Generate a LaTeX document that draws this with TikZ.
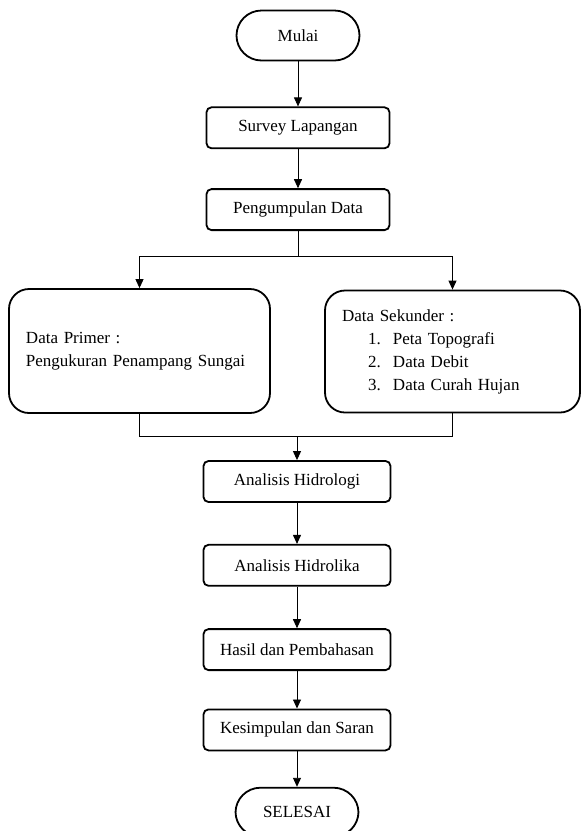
\documentclass[tikz,border=0pt]{standalone}
\usepackage{fontspec}
\setmainfont{Liberation Serif}
\usepackage{tikz}
\usetikzlibrary{arrows.meta, positioning}

\begin{document}
\begin{tikzpicture}[
    x=1pt, y=1pt,
    font=\fontsize{17}{23}\selectfont,
    term/.style={rectangle, draw, rounded corners=25pt, line width=1.8pt, minimum width=123pt, minimum height=50pt},
    box/.style={rectangle, draw, rounded corners=5pt, line width=1.8pt, minimum width=187pt, minimum height=41pt},
    bigbox/.style={rectangle, draw, rounded corners=20pt, line width=1.8pt, align=left, inner xsep=17pt, minimum height=122pt},
    line/.style={line width=0.9pt},
    arrow/.style={line, -{Triangle[length=9pt,width=8pt]}}
]
\useasboundingbox (0,0) rectangle (582,-831);
\node[term] (mulai) at (298,-35.5) {Mulai};
\node[box, minimum width=183pt, below=45pt of mulai] (survey) {Survey Lapangan};
\node[box, minimum width=183pt, below=39pt of survey] (pd) {Pengumpulan Data};
\node[bigbox, text width=227pt, minimum height=124pt] (prim) at (139.5,-351)
    {Data Primer :\\Pengukuran Penampang Sungai};
\node[bigbox, text width=221pt] (sek) at (452.5,-351.5)
    {Data Sekunder :\\
     \hspace*{26pt}\makebox[25pt][l]{1.}Peta Topografi\\
     \hspace*{26pt}\makebox[25pt][l]{2.}Data Debit\\
     \hspace*{26pt}\makebox[25pt][l]{3.}Data Curah Hujan};
\node[box] (hidrologi) at (297,-481.5) {Analisis Hidrologi};
\node[box, below=41pt of hidrologi] (hidrolika) {Analisis Hidrolika};
\node[box, below=41.5pt of hidrolika] (hasil) {Hasil dan Pembahasan};
\node[box, below=37.5pt of hasil] (simpul) {Kesimpulan dan Saran};
\node[term, minimum height=49pt, below=35.5pt of simpul] (selesai) {SELESAI};
\coordinate (split) at (298,-256);
\coordinate (join) at (297,-436);
% alur utama
\draw[arrow] (mulai) -- (survey);
\draw[arrow] (survey) -- (pd);
\draw[line] (pd.south) -- (split);
\draw[arrow] (split) -| (prim.north);
\draw[arrow] (split) -| (sek.north);
\draw[line] (prim.south) |- (join);
\draw[line] (join) -| (sek.south);
\draw[arrow] (join) -- (hidrologi.north);
\draw[arrow] (hidrologi) -- (hidrolika);
\draw[arrow] (hidrolika) -- (hasil);
\draw[arrow] (hasil) -- (simpul);
\draw[arrow] (simpul) -- (selesai);
\end{tikzpicture}
\end{document}
